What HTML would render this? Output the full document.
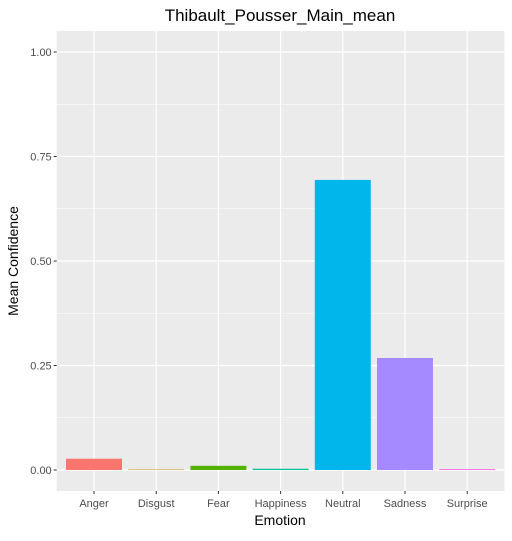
<!DOCTYPE html>
<html><head><meta charset="utf-8"><style>body{margin:0;background:#fff}svg text{font-family:"Liberation Sans",sans-serif}</style></head>
<body>
<svg id="chart" width="512" height="536">
<text x="280" y="21" font-size="17" text-anchor="middle" fill="#000">Thibault_Pousser_Main_mean</text>
<rect x="56.7" y="31" width="447.8" height="460" fill="#EBEBEB"/>
<g id="grid"></g><g id="bars"></g><g id="axes"></g>
<text x="280" y="525" font-size="14" text-anchor="middle">Emotion</text>
<text transform="translate(18,261) rotate(-90)" font-size="14" text-anchor="middle">Mean Confidence</text>
</svg>
<script>
const categories=["Anger","Disgust","Fear","Happiness","Neutral","Sadness","Surprise"];
const values=[0.027,0.0003,0.01,0.003,0.694,0.268,0.002];
const colors=["#F8766D","#C49A00","#53B400","#00C094","#00B6EB","#A58AFF","#FB61D7"];
const yTicks=[0,0.25,0.5,0.75,1];
const yTickLabels=["0.00","0.25","0.50","0.75","1.00"];
const NS="http://www.w3.org/2000/svg";
const L=56.7,R=504.5,band=(R-L)/(categories.length+0.2);
const x=i=>L+band*(0.6+i);
const y=v=>470-v*418;
function mk(t,a,p){const e=document.createElementNS(NS,t);for(const k in a)e.setAttribute(k,a[k]);document.getElementById(p).appendChild(e);return e;}
for(let i=0;i<yTicks.length-1;i++){const m=(yTicks[i]+yTicks[i+1])/2;
 const g=mk("line",{x1:L,x2:R,y1:y(m),y2:y(m),stroke:"#fff","stroke-width":0.6},"grid");
 
 }
yTicks.forEach((v,i)=>{
 const g=mk("line",{x1:L,x2:R,y1:y(v),y2:y(v),stroke:"#fff","stroke-width":1.2},"grid");
 
 
 const t=mk("line",{x1:L-3,x2:L,y1:y(v),y2:y(v),stroke:"#333","stroke-width":1},"axes");
 
 
 const l=mk("text",{x:L-5,y:y(v)+4,"font-size":11,"text-anchor":"end",fill:"#4D4D4D"},"axes");
 l.textContent=yTickLabels[i];
 
 });
categories.forEach((c,i)=>{
 const g=mk("line",{x1:x(i),x2:x(i),y1:31,y2:491,stroke:"#fff","stroke-width":1.2},"grid");
 
 
 const w=band*0.9,h=Math.max(y(0)-y(values[i]),0.5);
 const b=mk("rect",{x:x(i)-w/2,y:y(0)-h,width:w,height:h,fill:colors[i]},"bars");
 
 
 const t=mk("line",{x1:x(i),x2:x(i),y1:491,y2:494,stroke:"#333","stroke-width":1},"axes");
 
 
 const l=mk("text",{x:x(i),y:507,"font-size":11,"text-anchor":"middle",fill:"#4D4D4D"},"axes");
 l.textContent=c;
 
 });
</script>
</body></html>
